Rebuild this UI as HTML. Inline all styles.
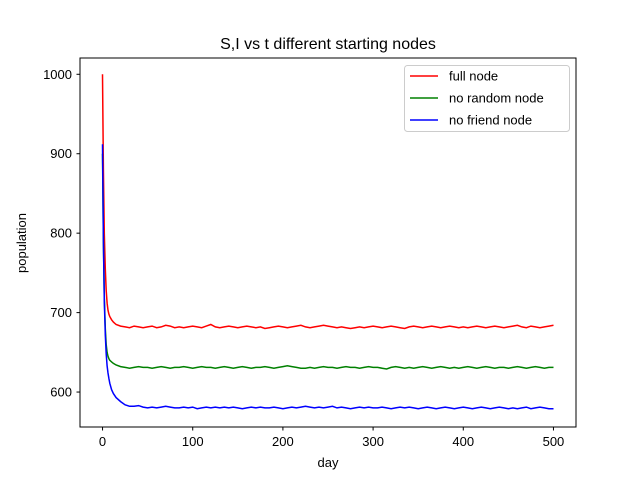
<!DOCTYPE html>
<html><head><meta charset="utf-8"><style>
body{margin:0;background:#fff;}
svg text{font-family:"Liberation Sans","DejaVu Sans",sans-serif;}
</style></head><body>
<svg id="chart" width="640" height="480" xmlns="http://www.w3.org/2000/svg">
<rect width="640" height="480" fill="#fff"/>
<text x="328" y="49" font-size="16" text-anchor="middle">S,I vs t different starting nodes</text>
<g id="plot"></g>
<rect x="80" y="58" width="496" height="369" fill="none" stroke="#000" stroke-width="1"/>
<g id="xt"></g>
<g id="yt"></g>
<text x="328" y="467" font-size="13" text-anchor="middle">day</text>
<text x="26" y="243" font-size="13" text-anchor="middle" transform="rotate(-90 26 243)">population</text>
<g>
<rect x="404.5" y="65.5" width="165" height="66" rx="3" fill="#fff" fill-opacity="0.8" stroke="#ccc"/>
<line x1="410" y1="76" x2="438" y2="76" stroke="red" stroke-width="1.5"/>
<text x="449" y="80.5" font-size="13">full node</text>
<line x1="410" y1="98" x2="438" y2="98" stroke="green" stroke-width="1.5"/>
<text x="449" y="102.5" font-size="13">no random node</text>
<line x1="410" y1="120" x2="438" y2="120" stroke="blue" stroke-width="1.5"/>
<text x="449" y="124.5" font-size="13">no friend node</text>
</g>
</svg>
<script>
const days=[0,1,2,3,4,5,6,7,8,10,12,15,20,25,30,35,40,45,50,55,60,65,70,75,80,85,90,95,100,105,110,115,120,125,130,135,140,145,150,155,160,165,170,175,180,185,190,195,200,205,210,215,220,225,230,235,240,245,250,255,260,265,270,275,280,285,290,295,300,305,310,315,320,325,330,335,340,345,350,355,360,365,370,375,380,385,390,395,400,405,410,415,420,425,430,435,440,445,450,455,460,465,470,475,480,485,490,495,500];
const fullNode=[1000,880,800,755,728,712,703,698,695,691,688,685,683,
682,681,683,682,681,682,683,681,682,684,683,681,
682,681,682,683,682,681,683,685,682,681,682,683,
682,681,682,683,682,681,682,680,681,682,683,682,
681,682,683,684,682,681,682,683,684,683,682,681,
682,681,680,681,682,681,682,683,682,681,682,683,
682,681,680,682,683,682,681,682,683,682,681,682,
683,682,681,682,681,682,683,682,681,682,683,682,681,682,683,684,
682,681,683,682,681,682,683,684];
const noRandom=[900,790,720,680,660,650,645,642,640,638,636,634,632,
631,630,631,632,631,631,630,631,632,631,630,631,
631,632,631,630,631,632,631,631,630,631,632,631,
630,631,632,631,630,631,631,632,631,630,631,632,
633,632,631,630,630,631,630,631,632,631,631,630,
631,632,631,631,630,631,632,631,631,630,629,631,
632,631,630,631,630,631,632,631,630,631,632,631,
630,631,630,631,632,631,630,631,632,631,630,631,631,630,631,632,
631,630,631,632,631,630,631,631];
const noFriend=[912,790,715,672,648,633,624,617,611,603,598,593,588,
584,582,582,583,581,580,581,580,581,582,581,580,
580,581,580,581,579,580,581,580,581,580,581,580,
581,580,579,580,581,580,581,580,580,581,580,579,
580,581,580,581,582,581,580,581,580,581,582,580,
581,580,579,580,581,580,581,580,580,581,580,579,
580,581,580,581,580,579,580,581,580,579,580,581,
580,579,580,581,580,579,580,581,580,579,580,581,580,579,580,579,
580,581,579,580,581,580,579,579];
const xTicks=[0,100,200,300,400,500];
const yTicks=[600,700,800,900,1000];
const X=d=>80+(d+25)*496/550;
const Y=v=>427-(v-556)*369/(1020.5-556);
const NS="http://www.w3.org/2000/svg";
const plot=document.getElementById('plot');
[[fullNode,'red','line-full-node'],[noRandom,'green','line-no-random-node'],[noFriend,'blue','line-no-friend-node']].forEach(s=>{
  const n=Math.min(days.length,s[0].length);
  let d='';
  for(let i=0;i<n;i++) d+=(i?'L':'M')+X(days[i]).toFixed(1)+','+Y(s[0][i]).toFixed(1);
  const p=document.createElementNS(NS,'path');
  p.setAttribute('d',d);p.setAttribute('fill','none');p.setAttribute('stroke',s[1]);p.setAttribute('stroke-width','1.5');
  
  
  plot.appendChild(p);
});
const xt=document.getElementById('xt'),yt=document.getElementById('yt');
xTicks.forEach(t=>{
  const x=X(t);
  const l=document.createElementNS(NS,'line');
  l.setAttribute('x1',x);l.setAttribute('x2',x);l.setAttribute('y1',427);l.setAttribute('y2',430.5);l.setAttribute('stroke','#000');
  
  
  xt.appendChild(l);
  const tx=document.createElementNS(NS,'text');
  tx.setAttribute('x',x);tx.setAttribute('y',446);tx.setAttribute('font-size','13');tx.setAttribute('text-anchor','middle');tx.textContent=t;
  
  
  xt.appendChild(tx);
});
yTicks.forEach(t=>{
  const y=Y(t);
  const l=document.createElementNS(NS,'line');
  l.setAttribute('x1',76.5);l.setAttribute('x2',80);l.setAttribute('y1',y);l.setAttribute('y2',y);l.setAttribute('stroke','#000');
  
  
  yt.appendChild(l);
  const tx=document.createElementNS(NS,'text');
  tx.setAttribute('x',72);tx.setAttribute('y',y+4.5);tx.setAttribute('font-size','13');tx.setAttribute('text-anchor','end');tx.textContent=t;
  
  
  yt.appendChild(tx);
});
</script>
</body></html>
